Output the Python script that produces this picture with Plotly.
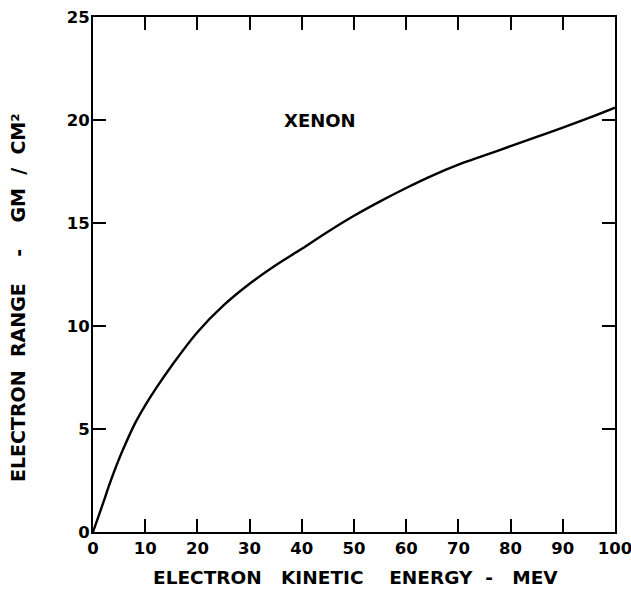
import plotly.graph_objects as go

energy_mev = [0, 1, 2, 3, 4, 5, 6, 8, 10, 12, 15, 20, 25, 30, 35, 40, 45, 50, 55, 60, 65, 70, 75, 80, 85, 90, 95, 100]
range_gm_cm2 = [0, 0.72, 1.45, 2.2, 2.9, 3.55, 4.15, 5.25, 6.15, 6.95, 8.05, 9.7, 11.0, 12.05, 12.95, 13.75,
                14.58, 15.35, 16.05, 16.7, 17.3, 17.83, 18.28, 18.73, 19.18, 19.63, 20.1, 20.6]

x_ticks = [0, 10, 20, 30, 40, 50, 60, 70, 80, 90, 100]
y_ticks = [0, 5, 10, 15, 20, 25]

NB = "\u00a0"
x_title = f"ELECTRON{NB*3}KINETIC{NB*4}ENERGY{NB*2}-{NB*3}MEV"
y_title = f"ELECTRON{NB*2}RANGE{NB*4}-{NB*4}GM{NB*2}/{NB*2}CM²"

font_family = "DejaVu Sans, sans-serif"

fig = go.Figure()
fig.add_trace(go.Scatter(
    x=energy_mev, y=range_gm_cm2, mode="lines",
    line=dict(color="black", width=2.4, shape="spline", smoothing=1.0),
    showlegend=False, hoverinfo="skip",
))

fig.add_annotation(x=43.4, y=20.0, xref="x", yref="y", text="XENON", showarrow=False,
                   font=dict(family=font_family, size=18, color="black", weight="bold"))
fig.add_annotation(x=0.503, y=-0.065, xref="paper", yref="paper", text=x_title, showarrow=False,
                   xanchor="center", yanchor="top",
                   font=dict(family=font_family, size=18.5, color="black", weight="bold"))
fig.add_annotation(x=-0.145, y=0.455, xref="paper", yref="paper", text=y_title, showarrow=False,
                   textangle=-90, xanchor="center", yanchor="middle",
                   font=dict(family=font_family, size=19, color="black", weight="bold"))

axis_common = dict(
    showgrid=False, zeroline=False, showline=True, linecolor="black", linewidth=2,
    mirror="ticks", ticks="inside", ticklen=13, tickwidth=1.8, tickcolor="black",
    tickfont=dict(family=font_family, size=16.5, color="black", weight="bold"),
    ticklabeloverflow="allow", automargin=False,
)

fig.update_xaxes(range=[0, 100], tickvals=x_ticks, ticktext=[str(v) for v in x_ticks],
                 ticklabelstandoff=0, **axis_common)
fig.update_yaxes(range=[0, 25], tickvals=y_ticks, ticktext=[str(v) for v in y_ticks],
                 ticklabelstandoff=-2, **axis_common)

fig.update_layout(
    width=631, height=594,
    margin=dict(l=93, r=16, t=17, b=62),
    plot_bgcolor="white", paper_bgcolor="white",
)

fig.write_html("out.html", config={"displayModeBar": False},
               post_script="document.body.style.margin='0';document.body.style.padding='0';")
